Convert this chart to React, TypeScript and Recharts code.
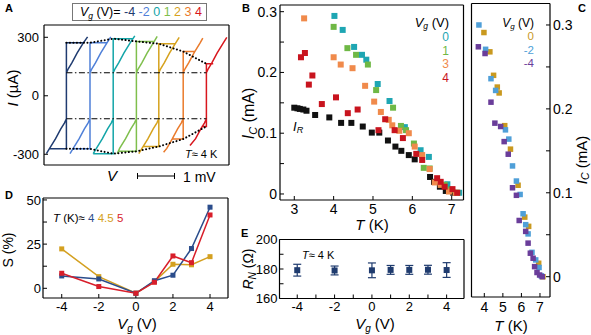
import React from "react";
import { ErrorBar, Line, LineChart, Scatter, ScatterChart, XAxis, YAxis } from "recharts";

const FONT = "'Liberation Sans', Arial, Helvetica, sans-serif";

// ---- A: hysteretic I-V curves, V in mV (arbitrary offset), I in uA
const A_VG = ["-4", "-2", "0", "1", "2", "3", "4"];
const A_COLORS = ["#1f3b70", "#4f80d8", "#13a5a8", "#7fbf4d", "#d6a21e", "#ea7b2c", "#d8161d"];
const IV_M4 = [[0.06, -297], [0.14, -270], [0.29, -220], [0.42, -170], [0.51, -140], [0.56, -118], [0.56, -272], [0.14, -272], [0.56, -272], [0.56, 272], [0.98, 272], [0.56, 272], [0.56, 118], [0.61, 140], [0.7, 170], [0.83, 220], [0.98, 270], [1.09, 302]];
const IV_M2 = [[0.65, -297], [0.73, -270], [0.88, -220], [1.01, -170], [1.1, -140], [1.15, -118], [1.15, -272], [0.73, -272], [1.15, -272], [1.15, 272], [1.57, 272], [1.15, 272], [1.15, 118], [1.2, 140], [1.29, 170], [1.42, 220], [1.57, 270], [1.67, 302]];
const IV_0 = [[1.23, -297], [1.31, -270], [1.46, -220], [1.59, -170], [1.68, -140], [1.73, -118], [1.73, -297], [1.23, -297], [1.73, -297], [1.73, 293], [2.23, 293], [1.73, 293], [1.73, 118], [1.78, 140], [1.87, 170], [2.0, 220], [2.15, 270], [2.27, 307]];
const IV_1 = [[1.83, -297], [1.89, -270], [2.04, -220], [2.17, -170], [2.26, -140], [2.31, -118], [2.31, -285], [1.86, -285], [2.31, -285], [2.31, 279], [2.76, 279], [2.31, 279], [2.31, 118], [2.36, 140], [2.45, 170], [2.58, 220], [2.73, 270], [2.83, 305]];
const IV_2 = [[2.37, -297], [2.45, -270], [2.6, -220], [2.73, -170], [2.82, -140], [2.87, -118], [2.87, -260], [2.48, -260], [2.87, -260], [2.87, 267], [3.28, 267], [2.87, 267], [2.87, 118], [2.92, 140], [3.01, 170], [3.14, 220], [3.29, 270], [3.38, 300]];
const IV_3 = [[2.99, -290], [3.07, -270], [3.21, -220], [3.34, -170], [3.43, -140], [3.48, -118], [3.48, -222], [3.2, -222], [3.48, -222], [3.48, 227], [3.77, 227], [3.48, 227], [3.48, 118], [3.53, 140], [3.62, 170], [3.75, 220], [3.9, 270], [3.97, 296]];
const IV_4 = [[3.65, -255], [3.79, -220], [3.92, -170], [4.01, -140], [4.06, -118], [4.06, -157], [3.94, -157], [4.06, -157], [4.06, 164], [4.23, 164], [4.06, 164], [4.06, 118], [4.11, 140], [4.2, 170], [4.33, 220], [4.48, 270], [4.57, 300]];
const A_CURVES = [IV_M4, IV_M2, IV_0, IV_1, IV_2, IV_3, IV_4];
const IC_TOP = [[0.56, 272], [1.15, 272], [1.73, 293], [2.31, 279], [2.87, 267], [3.48, 227], [4.06, 164]];
const IC_BOT = [[0.56, -272], [1.15, -272], [1.73, -297], [2.31, -285], [2.87, -260], [3.48, -222], [4.06, -157]];
const IR_TOP = [[0.56, 118], [4.06, 118]];
const IR_BOT = [[0.56, -118], [4.06, -118]];
const A_XTICKS = [0.325, 1.3, 2.275, 3.225, 4.225];

// ---- B: Ic(T) for Vg = 0, 1, 3, 4 V and retrapping current
const B_V0 = [[4.02, 0.293], [4.23, 0.27], [4.52, 0.242], [4.72, 0.229], [4.83, 0.221], [5.12, 0.181], [5.42, 0.153], [5.81, 0.11], [6.21, 0.072], [6.42, 0.061], [6.89, 0.016], [7.19, 0.002]];
const B_V1 = [[4.0, 0.275], [4.35, 0.24], [4.57, 0.229], [4.87, 0.213], [5.08, 0.171], [5.51, 0.142], [5.71, 0.112], [5.84, 0.105], [6.04, 0.083], [6.29, 0.043], [6.44, 0.042], [6.82, 0.015], [6.96, 0.007], [7.14, 0.002]];
const B_V3 = [[3.25, 0.289], [4.0, 0.225], [4.18, 0.213], [4.48, 0.207], [4.8, 0.178], [5.03, 0.152], [5.2, 0.135], [5.4, 0.122], [5.49, 0.113], [5.67, 0.104], [5.91, 0.1], [6.06, 0.078], [6.25, 0.064], [6.44, 0.041], [6.57, 0.019], [6.72, 0.015], [6.93, 0.004], [7.1, 0.002]];
const B_V4 = [[3.17, 0.225], [3.27, 0.232], [3.37, 0.18], [3.46, 0.195], [3.7, 0.148], [4.06, 0.159], [4.36, 0.133], [4.61, 0.139], [5.14, 0.105], [5.31, 0.123], [5.55, 0.105], [5.76, 0.092], [6.1, 0.066], [6.25, 0.056], [6.63, 0.026], [6.72, 0.02], [6.82, 0.012], [7.02, 0.008], [7.14, 0.002]];
const B_IR = [[3.0, 0.142], [3.08, 0.141], [3.14, 0.14], [3.23, 0.139], [3.31, 0.137], [3.53, 0.13], [3.89, 0.126], [4.19, 0.117], [4.45, 0.117], [4.74, 0.111], [4.97, 0.101], [5.16, 0.101], [5.38, 0.088], [5.57, 0.078], [5.72, 0.071], [5.91, 0.064], [6.06, 0.057], [6.45, 0.028], [6.55, 0.02], [6.7, 0.012], [6.85, 0.005], [7.04, 0.002]];
const B_SERIES = [
  { name: "0", color: "#1ea6b3", pts: B_V0 },
  { name: "1", color: "#6fb845", pts: B_V1 },
  { name: "3", color: "#f08a4b", pts: B_V3 },
  { name: "4", color: "#c8141e", pts: B_V4 },
];
const B_YTICKS = [0, 0.05, 0.1, 0.15, 0.2, 0.25, 0.3];

// ---- C: Ic(T) for Vg = 0, -2, -4 V
const C_V0 = [[3.98, 0.291], [4.3, 0.268], [4.5, 0.24], [4.7, 0.226], [4.8, 0.219], [5.1, 0.18], [5.41, 0.152], [5.82, 0.109], [6.18, 0.071], [6.39, 0.06], [6.93, 0.016], [7.16, 0.0]];
const C_VM2 = [[3.71, 0.3], [4.07, 0.271], [4.36, 0.236], [4.61, 0.222], [5.14, 0.175], [5.32, 0.164], [5.52, 0.132], [5.73, 0.114], [5.93, 0.098], [6.09, 0.075], [6.23, 0.062], [6.36, 0.051], [6.57, 0.029], [6.77, 0.02], [6.95, 0.011], [7.07, 0.001]];
const C_VM4 = [[3.68, 0.274], [4.04, 0.266], [4.36, 0.208], [4.57, 0.183], [4.88, 0.179], [5.07, 0.161], [5.29, 0.146], [5.52, 0.106], [5.73, 0.097], [5.88, 0.067], [6.23, 0.054], [6.36, 0.04], [6.48, 0.028], [6.63, 0.022], [6.71, 0.012], [6.84, 0.005], [6.98, 0.002], [7.12, 0.0]];
const C_SERIES = [
  { name: "0", color: "#c9991f", pts: C_V0 },
  { name: "-2", color: "#4f9fd8", pts: C_VM2 },
  { name: "-4", color: "#6a3d9a", pts: C_VM4 },
];

// ---- D: skewness S(Vg) at three temperatures
const D_VG = [-4, -2, 0, 1, 2, 3, 4];
const S_T4 = [7, 5.3, -2.8, 4.3, 7.4, 22.5, 45.9];
const S_T45 = [22.3, 6.6, -2.8, 3.8, 13.6, 13.3, 17.9];
const S_T5 = [8.5, 1.0, -2.8, 3.4, 18.3, 14.5, 41.5];

// ---- E: normal resistance vs Vg
const E_VG = [-4, -2, 0, 1, 2, 3, 4];
const RN = [179.2, 179.0, 179.1, 179.4, 179.4, 179.5, 179.3];
const RN_ERR = [4, 3, 5, 3, 3, 3, 5];

const pts = (a: number[][]) => a.map(([x, y]) => ({ x, y }));

type FrameOpts = {
  xd: [number, number];
  yd: [number, number];
  xt: number[];
  yt: number[];
  yw: number;
  rw: number;
  xh: number;
  fs: number;
  xm: number;
  ym: number;
  xLab: boolean;
  ySide: "left" | "right";
  xf?: (v: number) => string;
  yf?: (v: number) => string;
  yKey?: string;
};

// box frame: ticks pointing inward on all four sides
function frame(o: FrameOpts) {
  const tk = { fontSize: o.fs, fill: "#000", fontFamily: FONT };
  const ln = { stroke: "#000", strokeWidth: 1.2 };
  const common = {
    axisLine: ln,
    tickLine: { stroke: "#000", strokeWidth: 1 },
    tickSize: -4,
    interval: 0 as const,
    allowDataOverflow: true,
    type: "number" as const,
  };
  return [
    <XAxis key="xb" xAxisId="b" dataKey="x" {...common} domain={o.xd} ticks={o.xt} height={o.xh}
      tickMargin={o.xm} tick={o.xLab ? tk : false} tickFormatter={o.xf} />,
    <XAxis key="xt" xAxisId="t" orientation="top" {...common} domain={o.xd} ticks={o.xt} height={1} tick={false} />,
    <YAxis key="yl" yAxisId="l" dataKey={o.yKey} {...common} domain={o.yd} ticks={o.yt} width={o.yw}
      tickMargin={o.ym} tick={o.ySide === "left" ? tk : false} tickFormatter={o.yf} />,
    <YAxis key="yr" yAxisId="r" orientation="right" {...common} domain={o.yd} ticks={o.yt} width={o.rw}
      tickMargin={o.ym} tick={o.ySide === "right" ? tk : false} tickFormatter={o.yf} />,
  ];
}

const square = (color: string, s: number) => (p: any) => (
  <rect key={`sq${p.index}`} x={p.cx - s / 2} y={p.cy - s / 2} width={s} height={s} fill={color} />
);

const tenths = (v: number) => ([0, 0.1, 0.2, 0.3].includes(v) ? String(v) : "");

function PanelA() {
  return (
    <LineChart width={240} height={175} margin={{ top: 24, right: 10, left: 0, bottom: 0 }}>
      {frame({ xd: [0, 4.625], yd: [-355, 363], xt: A_XTICKS, yt: [-300, 0, 300], yw: 44, rw: 1, xh: 10, fs: 13, xm: 0, ym: 9, xLab: false, ySide: "left" })}
      {A_CURVES.map((c, i) => (
        <Line key={A_VG[i]} xAxisId="b" yAxisId="l" data={pts(c)} dataKey="y" stroke={A_COLORS[i]}
          strokeWidth={1.5} dot={false} isAnimationActive={false} />
      ))}
      <Line xAxisId="b" yAxisId="l" data={pts(IR_TOP)} dataKey="y" stroke="#000" strokeWidth={1.1}
        strokeDasharray="6 2.5 1.5 2.5" dot={false} isAnimationActive={false} />
      <Line xAxisId="b" yAxisId="l" data={pts(IR_BOT)} dataKey="y" stroke="#000" strokeWidth={1.1}
        strokeDasharray="6 2.5 1.5 2.5" dot={false} isAnimationActive={false} />
      <Line xAxisId="b" yAxisId="l" data={pts(IC_TOP)} dataKey="y" stroke="#000" strokeWidth={2}
        strokeDasharray="0.1 3.4" strokeLinecap="round" dot={false} isAnimationActive={false} />
      <Line xAxisId="b" yAxisId="l" data={pts(IC_BOT)} dataKey="y" stroke="#000" strokeWidth={2}
        strokeDasharray="0.1 3.4" strokeLinecap="round" dot={false} isAnimationActive={false} />
    </LineChart>
  );
}

function PanelB() {
  return (
    <ScatterChart width={230} height={232} margin={{ top: 4, right: 5.5, left: 0, bottom: 0 }}>
      {frame({ xd: [2.637, 7.3], yd: [-0.0099, 0.311], xt: [3, 4, 5, 6, 7], yt: B_YTICKS, yw: 40, rw: 1, xh: 32, fs: 14, xm: 8, ym: 7, xLab: true, ySide: "left", yf: tenths, yKey: "y" })}
      <Scatter xAxisId="b" yAxisId="l" data={pts(B_IR)} shape={square("#111", 6)} isAnimationActive={false} />
      {B_SERIES.map((s) => (
        <Scatter key={s.name} xAxisId="b" yAxisId="l" data={pts(s.pts)} shape={square(s.color, 6)} isAnimationActive={false} />
      ))}
    </ScatterChart>
  );
}

function PanelC() {
  return (
    <ScatterChart width={129} height={335} margin={{ top: 2.5, right: 0, left: 0, bottom: 0 }}>
      {frame({ xd: [3.31, 7.54], yd: [-0.0242, 0.3256], xt: [4, 5, 6, 7], yt: B_YTICKS, yw: 9.5, rw: 41, xh: 38, fs: 14, xm: 9, ym: 7, xLab: true, ySide: "right", yf: tenths, yKey: "y" })}
      {C_SERIES.map((s) => (
        <Scatter key={s.name} xAxisId="b" yAxisId="l" data={pts(s.pts)} shape={square(s.color, 5.5)} isAnimationActive={false} />
      ))}
    </ScatterChart>
  );
}

function PanelD() {
  const data = D_VG.map((v, i) => ({ x: v, s4: S_T4[i], s45: S_T45[i], s5: S_T5[i] }));
  const lines = [
    { key: "s45", color: "#d4a020" },
    { key: "s4", color: "#2b4d8c" },
    { key: "s5", color: "#d81e2a" },
  ];
  return (
    <LineChart width={240} height={155} data={data} margin={{ top: 17, right: 11, left: 0, bottom: 0 }}>
      {frame({ xd: [-5.01, 4.97], yd: [-5.49, 51.1], xt: [-4, -2, 0, 2, 4], yt: [0, 12.5, 25, 37.5, 50], yw: 43, rw: 1, xh: 37, fs: 13, xm: 8, ym: 6, xLab: true, ySide: "left", yf: (v) => (v % 25 === 0 ? String(v) : "") })}
      {lines.map((l) => (
        <Line key={l.key} xAxisId="b" yAxisId="l" dataKey={l.key} stroke={l.color} strokeWidth={1.5}
          dot={square(l.color, 5)} isAnimationActive={false} />
      ))}
    </LineChart>
  );
}

function PanelE() {
  const data = E_VG.map((v, i) => ({ x: v, y: RN[i], err: RN_ERR[i] }));
  return (
    <ScatterChart width={230} height={110} margin={{ top: 13.5, right: 5, left: 0, bottom: 0 }}>
      {frame({ xd: [-4.95, 4.93], yd: [160, 200], xt: [-4, -3, -2, -1, 0, 1, 2, 3, 4], yt: [160, 170, 180, 190, 200], yw: 39.5, rw: 1, xh: 36.5, fs: 13, xm: 7.5, ym: 6, xLab: true, ySide: "left", xf: (v) => (v % 2 === 0 ? String(v) : ""), yf: (v) => (v % 20 === 0 ? String(v) : ""), yKey: "y" })}
      <Scatter xAxisId="b" yAxisId="l" data={data} shape={square("#1f3b6e", 6)} isAnimationActive={false}>
        <ErrorBar dataKey="err" direction="y" width={4} stroke="#1f3b6e" strokeWidth={1.2} />
      </Scatter>
    </ScatterChart>
  );
}

function Overlay() {
  const bold = { fontSize: 11, fontWeight: 700 } as const;
  return (
    <svg width={591} height={335} fontFamily={FONT} fill="#000"
      style={{ position: "absolute", left: 0, top: 0, pointerEvents: "none" }}>
      <text x={5} y={12} {...bold}>A</text>
      <text x={242} y={12} {...bold}>B</text>
      <text x={578} y={12} {...bold}>C</text>
      <text x={5} y={199} {...bold}>D</text>
      <text x={241} y={237} {...bold}>E</text>

      {/* A */}
      <rect x={72.5} y={3.5} width={134} height={17} fill="#fff" stroke="#777" strokeWidth={1} />
      <text x={80} y={16} fontSize={12.5}>
        <tspan fontStyle="italic">V</tspan>
        <tspan fontSize={8.5} dy={2.5} fontStyle="italic">g</tspan>
        <tspan dy={-2.5}> (V)= </tspan>
        {A_VG.map((v, i) => (
          <tspan key={v} fill={A_COLORS[i]}>{v}{i < A_VG.length - 1 ? " " : ""}</tspan>
        ))}
      </text>
      <text transform="translate(17.5,88) rotate(-90)" textAnchor="middle" fontSize={15}>
        <tspan fontStyle="italic">I</tspan> (µA)
      </text>
      <text x={112} y={181} fontSize={15} fontStyle="italic" textAnchor="middle">V</text>
      <line x1={137} x2={175} y1={176} y2={176} stroke="#000" strokeWidth={1.2} />
      <line x1={137.5} x2={137.5} y1={173} y2={179} stroke="#000" strokeWidth={1} />
      <line x1={174.5} x2={174.5} y1={173} y2={179} stroke="#000" strokeWidth={1} />
      <text x={183} y={182} fontSize={14}>1 mV</text>
      <text x={185} y={158} fontSize={11}><tspan fontStyle="italic">T</tspan>≈ 4 K</text>

      {/* B */}
      <text transform="translate(254,113.5) rotate(-90)" textAnchor="middle" fontSize={16}>
        <tspan fontStyle="italic">I</tspan>
        <tspan fontSize={11} dy={3} fontStyle="italic">C</tspan>
        <tspan dy={-3}> (mA)</tspan>
      </text>
      <text x={372} y={230} fontSize={15} textAnchor="middle"><tspan fontStyle="italic">T</tspan> (K)</text>
      <text x={293} y={131} fontSize={13}>
        <tspan fontStyle="italic">I</tspan>
        <tspan fontSize={9} dy={2} fontStyle="italic">R</tspan>
      </text>
      <text x={449} y={26.5} fontSize={13} textAnchor="end">
        <tspan fontStyle="italic">V</tspan>
        <tspan fontSize={8.5} dy={2} fontStyle="italic">g</tspan>
        <tspan dy={-2}> (V)</tspan>
      </text>
      {B_SERIES.map((s, i) => (
        <text key={s.name} x={449} y={[40.5, 54.5, 68, 81.5][i]} fontSize={12} textAnchor="end" fill={s.color}>{s.name}</text>
      ))}

      {/* C */}
      <text x={534} y={27} fontSize={12} textAnchor="end">
        <tspan fontStyle="italic">V</tspan>
        <tspan fontSize={8} dy={2} fontStyle="italic">g</tspan>
        <tspan dy={-2}> (V)</tspan>
      </text>
      {C_SERIES.map((s, i) => (
        <text key={s.name} x={534} y={[40, 53.5, 67][i]} fontSize={11.5} textAnchor="end" fill={s.color}>{s.name}</text>
      ))}
      <text transform="translate(586.5,160) rotate(-90)" textAnchor="middle" fontSize={15}>
        <tspan fontStyle="italic">I</tspan>
        <tspan fontSize={10.5} dy={2.5} fontStyle="italic">C</tspan>
        <tspan dy={-2.5}> (mA)</tspan>
      </text>
      <text x={511} y={331} fontSize={15} textAnchor="middle"><tspan fontStyle="italic">T</tspan> (K)</text>

      {/* D */}
      <text transform="translate(12.5,250) rotate(-90)" textAnchor="middle" fontSize={14}>S (%)</text>
      <text x={137} y={329} fontSize={15} textAnchor="middle">
        <tspan fontStyle="italic">V</tspan>
        <tspan fontSize={10} dy={3} fontStyle="italic">g</tspan>
        <tspan dy={-3}> (V)</tspan>
      </text>
      <text x={53} y={221.5} fontSize={11.5}>
        <tspan fontStyle="italic">T</tspan> (K)≈ <tspan fill="#2b4d8c">4</tspan> <tspan fill="#d4a020">4.5</tspan> <tspan fill="#d81e2a">5</tspan>
      </text>

      {/* E */}
      <text transform="translate(253,269) rotate(-90)" textAnchor="middle" fontSize={14}>
        <tspan fontStyle="italic">R</tspan>
        <tspan fontSize={10} dy={3} fontStyle="italic">N</tspan>
        <tspan dy={-3}> (Ω)</tspan>
      </text>
      <text x={375} y={329} fontSize={15} textAnchor="middle">
        <tspan fontStyle="italic">V</tspan>
        <tspan fontSize={10} dy={3} fontStyle="italic">g</tspan>
        <tspan dy={-3}> (V)</tspan>
      </text>
      <text x={302} y={259} fontSize={11}><tspan fontStyle="italic">T</tspan>≈ 4 K</text>
    </svg>
  );
}

const at = (left: number, top: number): React.CSSProperties => ({ position: "absolute", left, top });

export default function App() {
  return (
    <div style={{ position: "absolute", left: 0, top: 0, width: 591, height: 335, background: "#fff", overflow: "hidden", fontFamily: FONT }}>
      <div style={at(0, 0)}><PanelA /></div>
      <div style={at(240, 0)}><PanelB /></div>
      <div style={at(462, 0)}><PanelC /></div>
      <div style={at(0, 180)}><PanelD /></div>
      <div style={at(240, 225)}><PanelE /></div>
      <Overlay />
    </div>
  );
}
